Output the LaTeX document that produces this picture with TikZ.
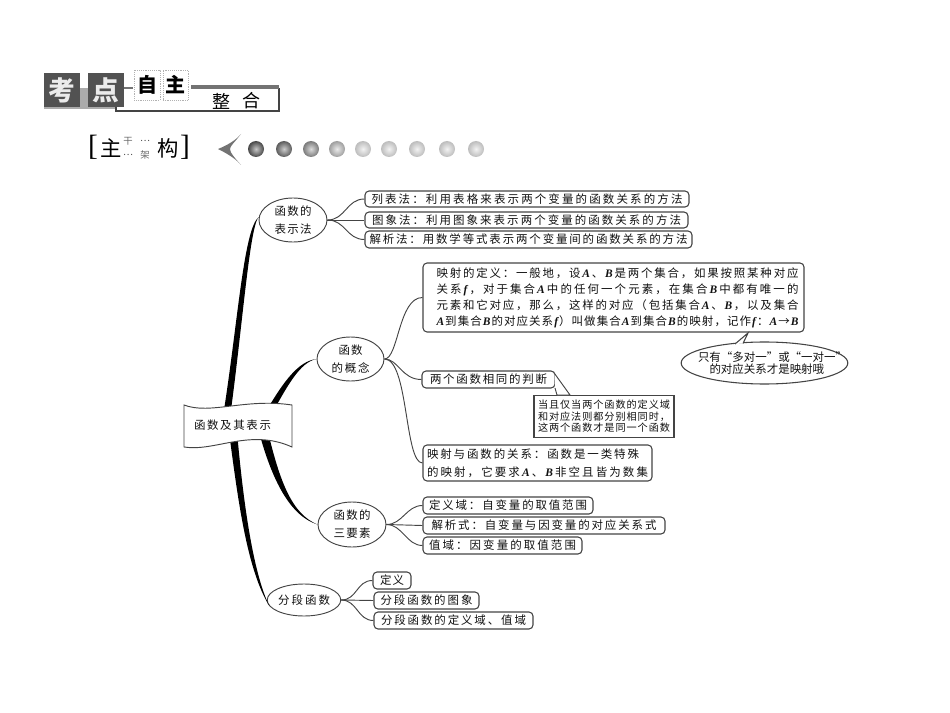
\documentclass[tikz,border=0pt]{standalone}
\usepackage{fontspec}
\usetikzlibrary{shapes.geometric}
\setmainfont{Noto Sans CJK SC}
\newfontfamily\latf{Liberation Serif}
\newdimen\jpx \jpx=0.75pt
\makeatletter
\newcommand\jl[2]{\hbox to #1\jpx{\@tfor\jx:=#2\do{\jx\hskip 0pt plus 1fil}\unskip}}
\makeatother
\newcommand\iA{{\latf\itshape\bfseries A}}
\newcommand\iB{{\latf\itshape\bfseries B}}
\newcommand\iF{{\latf\itshape\bfseries f}}
\newcommand\jv[3]{\vbox{\lineskiplimit=-100pt\baselineskip=#1\jpx\hbox{#2}\hbox{#3}}}
\definecolor{ink}{HTML}{111111}
\definecolor{edgec}{HTML}{444444}
\tikzset{
 rbox/.style={draw=edgec,line width=0.8pt,rounded corners=3pt,fill=white,inner sep=0pt,text=ink,font=\fontsize{8.6}{10}\selectfont},
 ebox/.style={ellipse,draw=edgec,line width=0.7pt,fill=white,inner sep=0pt,text=ink,font=\fontsize{8.6}{10}\selectfont},
 twig/.style={draw=edgec,line width=0.7pt},
 taper/.style={fill=black,draw=none},
 headbox/.style={fill=#1,inner sep=0pt,text=white!92!black,font=\fontsize{20}{22}\selectfont\bfseries},
 dashbox/.style={draw=black!30,densely dotted,line width=0.4pt,inner sep=0pt,font=\fontsize{15}{18}\selectfont\bfseries},
 titlet/.style={inner sep=0pt,font=\fontsize{16}{20}\selectfont},
 tiny/.style={inner sep=0pt,text=black!60,font=\fontsize{7}{8}\selectfont},
 orb/.style 2 args={circle,minimum size=12pt,inner sep=0pt,inner color=black!#1,outer color=black!#2},
}
\newcommand\rb[6]{\node[rbox,minimum width={(#4-#2)*0.75pt},minimum height={(#5-#3)*0.75pt}] (#1) at ({(#2+#4)/2},{(#3+#5)/2}) {#6};}
\newcommand\eb[6]{\node[ebox,minimum width={(#4-#2)*0.75pt},minimum height={(#5-#3)*0.75pt}] (#1) at ({(#2+#4)/2},{(#3+#5)/2}) {#6};}
\begin{document}
\begin{tikzpicture}[x=0.75pt,y=-0.75pt]
\useasboundingbox (0,0) rectangle (950,713);
% header
\fill[black!33] (44,88) rectangle (116,109);
\draw[edgec,line width=0.8pt] (116,107) -- (116,111) -- (279,111) -- (279,88);
\fill[black!55] (191,85) rectangle (279,89);
\draw[black!55,line width=0.8pt] (124,88) -- (133,88);
\node[headbox=black!68,minimum width=27pt,minimum height=25.5pt] (kao) at (62,90) {考};
\node[headbox=black!68,minimum width=27pt,minimum height=25.5pt] (dian) at (106,90) {点};
\node[dashbox,minimum width=19.5pt,minimum height=22.5pt] (zi) at (147,85) {自};
\node[dashbox,minimum width=19pt,minimum height=22.5pt] (zhu) at (175.5,85) {主};
\node[inner sep=0pt,font=\fontsize{13.5}{15}\selectfont] (zheng) at (221,101) {整};
\node[inner sep=0pt,font=\fontsize{13.5}{15}\selectfont] (he) at (251,101) {合};
% title
\node[titlet,font=\fontsize{22}{24}\selectfont\latf] (lb) at (93,147) {[};
\node[titlet] (t1) at (111,148) {主};
\node[tiny] (t2) at (128,141) {干};
\node[tiny,text=black!70] (t3) at (145,141) {…};
\node[tiny,text=black!70] (t4) at (128,155) {…};
\node[tiny] (t5) at (145,155) {架};
\node[titlet] (t6) at (168,148) {构};
\node[titlet,font=\fontsize{22}{24}\selectfont\latf] (rb) at (185,147) {]};
\fill[black!55] (218,149) .. controls (228,145) and (236,140) .. (241,134) .. controls (235,142) and (230,146) .. (230,149) .. controls (230,153) and (235,158) .. (241,165) .. controls (236,159) and (228,154) .. (218,149) -- cycle;
\node[orb={22}{72}] (o1) at (256,149) {};
\node[orb={20}{64}] (o2) at (284,149) {};
\node[orb={14}{52}] (o3) at (311,149) {};
\node[orb={8}{38}] (o4) at (337,149) {};
\node[orb={5}{26}] (o5) at (363,149) {};
\node[orb={5}{26}] (o6) at (389,149) {};
\node[orb={5}{26}] (o7) at (417,149) {};
\node[orb={5}{26}] (o8) at (447,149) {};
\node[orb={5}{26}] (o9) at (476,149) {};
% ellipses
\eb{e1}{259}{198}{327}{242}{\jv{18}{\jl{37}{函数的}}{\jl{37}{表示法}}}
\eb{e2}{317}{337}{384}{381}{\jv{18}{\hbox to 38\jpx{\hss\jl{24}{函数}\hss}}{\jl{38}{的概念}}}
\eb{e3}{318}{502}{386}{547}{\jv{18}{\jl{37}{函数的}}{\jl{37}{三要素}}}
\eb{e4}{268}{584}{340}{616}{\jl{52}{分段函数}}
% tapered trunks
\fill[taper] (224,410) .. controls (238,320) and (244,228) .. (e1.175) .. controls (250,225) and (243,320) .. (231,410) -- cycle;
\fill[taper] (268,408) .. controls (283,383) and (298,361) .. (e2.180) .. controls (300,362) and (287,387) .. (275,408) -- cycle;
\fill[taper] (259,432) .. controls (272,480) and (290,516) .. (e3.180) .. controls (292,514) and (280,482) .. (268,432) -- cycle;
\fill[taper] (229,432) .. controls (238,500) and (247,570) .. (e4.190) .. controls (254,575) and (244,510) .. (237,432) -- cycle;
% banner
\draw[edgec,line width=0.7pt,fill=white] (184,405) .. controls (210,415) and (245,398) .. (292,405) -- (292,447) .. controls (250,428) and (215,452) .. (184,447) -- cycle;
\node[inner sep=0pt,text=ink,font=\fontsize{8.6}{10}\selectfont] (flag) at (232.5,425) {\jl{77}{函数及其表示}};
% boxes
\rb{b1}{365}{191}{689}{207}{\jl{311}{列表法：利用表格来表示两个变量的函数关系的方法}}
\rb{b2}{365}{212}{688}{228}{\jl{309}{图象法：利用图象来表示两个变量的函数关系的方法}}
\rb{b3}{365}{231}{692}{248}{\jl{318}{解析法：用数学等式表示两个变量间的函数关系的方法}}
\rb{big}{423}{263}{804}{332}{\hskip 8\jpx\vbox{\lineskiplimit=-100pt\baselineskip=16\jpx
 \hbox{\jl{362}{映射的定义：一般地，设{\iA}、{\iB}是两个集合，如果按照某种对应}}
 \hbox{\jl{362}{关系{\iF}，对于集合{\iA}中的任何一个元素，在集合{\iB}中都有唯一的}}
 \hbox{\jl{362}{元素和它对应，那么，这样的对应（包括集合{\iA}、{\iB}，以及集合}}
 \hbox{\jl{362}{{\iA}到集合{\iB}的对应关系{\iF}）叫做集合{\iA}到集合{\iB}的映射，记作{\iF}：{\iA}→{\iB}}}}}
\rb{same}{422}{371}{555}{388}{\jl{117}{两个函数相同的判断}}
\rb{rel}{423}{445}{652}{481}{\jv{18}{\hbox to 221\jpx{\jl{212}{映射与函数的关系：函数是一类特殊}\hss}}{\jl{221}{的映射，它要求{\iA}、{\iB}非空且皆为数集}}}
\rb{d1}{423}{497}{593}{514}{\jl{158}{定义域：自变量的取值范围}}
\rb{d2}{423}{517}{665}{534}{\jl{225}{解析式：自变量与因变量的对应关系式}}
\rb{d3}{423}{537}{582}{554}{\jl{147}{值域：因变量的取值范围}}
\rb{f1}{373}{572}{411}{589}{\jl{24}{定义}}
\rb{f2}{374}{592}{479}{609}{\jl{92}{分段函数的图象}}
\rb{f3}{374}{612}{533}{629}{\jl{145}{分段函数的定义域、值域}}
% twigs
\draw[twig] (e1.east) .. controls +(18,0) and +(-18,0) .. (b1.west);
\draw[twig] (e1.east) -- (b2.west);
\draw[twig] (e1.east) .. controls +(18,0) and +(-18,0) .. (b3.west);
\draw[twig] (e2.east) .. controls +(14,0) and +(-24,0) .. (big.west);
\draw[twig] (e2.east) .. controls +(14,0) and +(-20,0) .. (same.west);
\draw[twig] (e2.east) .. controls +(24,0) and +(-18,0) .. (rel.west);
\draw[twig] (e3.east) .. controls +(16,0) and +(-16,0) .. (d1.west);
\draw[twig] (e3.east) -- (d2.west);
\draw[twig] (e3.east) .. controls +(16,0) and +(-16,0) .. (d3.west);
\draw[twig] (e4.east) .. controls +(16,0) and +(-16,0) .. (f1.west);
\draw[twig] (e4.east) -- (f2.west);
\draw[twig] (e4.east) .. controls +(16,0) and +(-16,0) .. (f3.west);
% note on judgement
\node[draw=edgec,line width=0.8pt,fill=white,inner sep=0pt,minimum width=105pt,minimum height=32pt,text=ink,font=\fontsize{7.6}{9}\selectfont] (note) at (604,416.5)
 {\vbox{\lineskiplimit=-100pt\baselineskip=11.5\jpx\hbox{\jl{132}{当且仅当两个函数的定义域}}\hbox{\jl{132}{和对应法则都分别相同时，}}\hbox{\jl{132}{这两个函数才是同一个函数}}}};
\draw[edgec,line width=0.7pt,fill=white] (same.east) ++(-1,-6) -- (570,395) -- (557,395) -- (555,388);
% bubble
\node[ellipse,draw=edgec,line width=0.8pt,fill=white,inner sep=0pt,minimum width=125pt,minimum height=31.5pt] (bub) at (764.5,363) {};
\path[draw=edgec,line width=0.8pt,fill=white] (735,344) -- (748,333) -- (743,343.5);
\node[inner sep=0pt,text=ink,font=\fontsize{8.6}{10}\selectfont] (bubtext) at (bub.center)
 {\vbox{\lineskiplimit=-100pt\baselineskip=11.5\jpx\hbox{\jl{133}{只有“多对一”或“一对一”}}\hbox to 133\jpx{\hss\jl{110}{的对应关系才是映射哦}\hss}}};
\end{tikzpicture}
\end{document}
